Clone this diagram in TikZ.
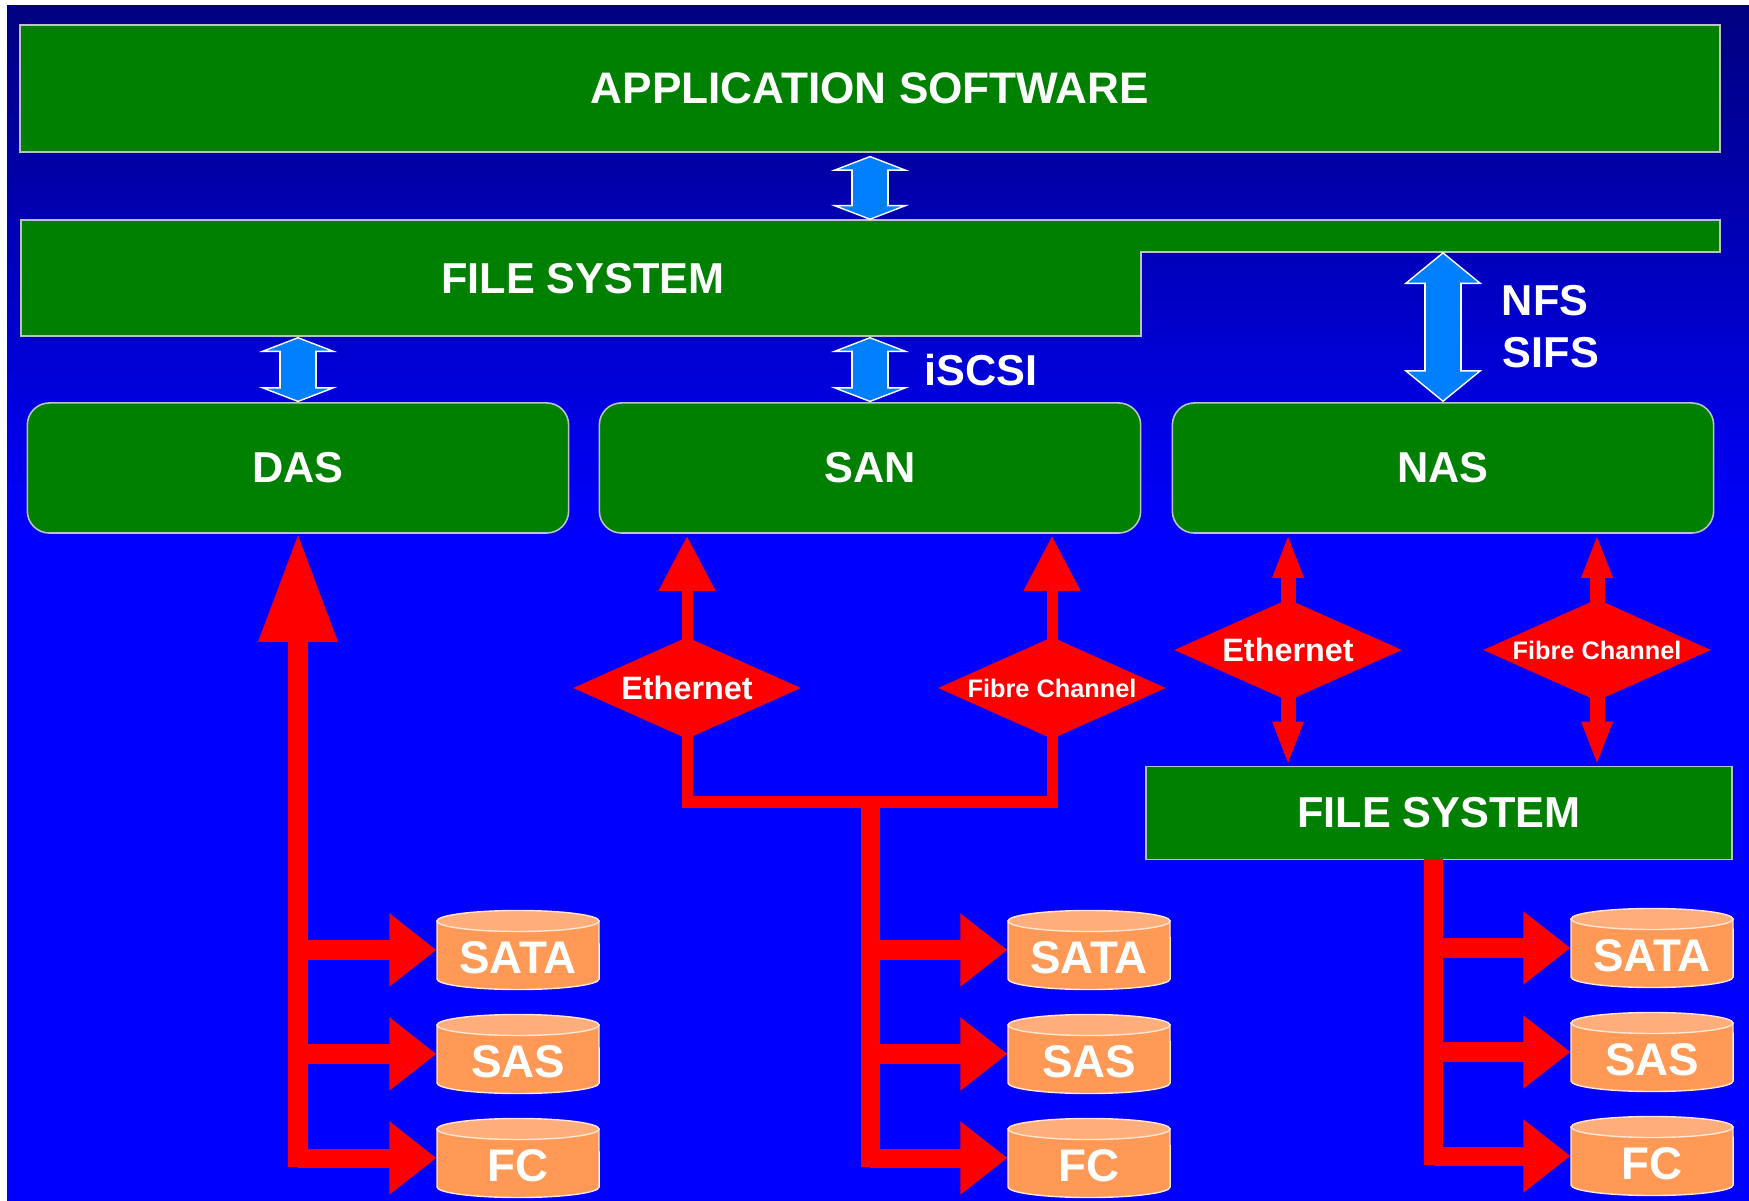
\documentclass[tikz,border=0pt]{standalone}
\usepackage{fontspec}
\setmainfont{Liberation Sans}
\usetikzlibrary{arrows.meta,shapes.geometric}
\definecolor{boxgreen}{RGB}{0,128,0}
\definecolor{boxline}{RGB}{185,195,195}
\definecolor{linkblue}{RGB}{0,128,255}
\definecolor{drivebody}{RGB}{255,153,85}
\definecolor{drivetop}{RGB}{255,173,122}
\tikzset{
  label text/.style={text=white,font=\fontsize{12.3}{14}\bfseries},
  flatbox/.style={draw=boxline,line width=0.45pt,fill=boxgreen},
  layerbox/.style={flatbox,label text,inner sep=0pt},
  roundbox/.style={layerbox,rounded corners=0.22cm,minimum width=5.41cm,minimum height=1.30cm},
  drive/.style={text=white,font=\fontsize{13}{15}\bfseries,inner sep=0pt,outer sep=0pt,minimum width=1.63cm,text height=0.63cm,text depth=0.16cm},
  driveline/.style={draw=white!75!drivebody,line width=0.4pt},
  proto/.style={diamond,fill=red,text=white,inner sep=-2pt,minimum width=2.28cm,minimum height=1.02cm,aspect=2.33},
  biglink/.style={draw=white,line width=0.375cm,
    {Triangle[length=#1,width=0.78cm,color=white,fill=linkblue,line width=0.4pt]}-{Triangle[length=#1,width=0.78cm,color=white,fill=linkblue,line width=0.4pt]},
    postaction={draw=linkblue,line width=0.345cm,-,shorten >=#1-0.04cm,shorten <=#1-0.04cm}},
  bus/.style={draw=red,line width=0.19cm},
  feed/.style={draw=red,line width=0.11cm,shorten <=-0.1cm,shorten >=-0.1cm},
  drive tip/.style={-{Triangle[length=0.47cm,width=0.70cm,color=red]}},
  feed tip/.style={-{Triangle[length=0.55cm,width=0.54cm,color=red]},shorten >=0.02cm},
  nas tip/.style={-{Triangle[length=0.44cm,width=0.28cm,color=red]},draw=red,line width=0.15cm,shorten <=-0.1cm}
}
\newcommand{\drivenode}[4]{
\draw[driveline,fill=drivebody] (#2-81,#3-29) -- (#2-81,#3+29) arc[start angle=180,end angle=360,x radius=0.81cm,y radius=0.105cm] -- (#2+81,#3-29) -- cycle;
\draw[driveline,fill=drivetop] (#2,#3-29) ellipse[x radius=0.81cm,y radius=0.105cm];
\node[drive] (#1) at (#2,#3) {#4};
}
\begin{document}
\begin{tikzpicture}[x=0.01cm,y=-0.01cm]
\useasboundingbox (0,0) rectangle (1749,1201);
\shade[top color=blue!50!black,bottom color=blue] (7,6) rectangle (1749,540);
\fill[blue] (7,540) rectangle (1749,1201);

\node[layerbox,font=\fontsize{12.55}{14}\bfseries,minimum width=16.99cm,minimum height=1.27cm] (app) at (870,88.5) {APPLICATION SOFTWARE};
\coordinate (fsnw) at (21,220);
\coordinate (fsne) at (1720,220);
\coordinate (fsse) at (1720,252);
\coordinate (fsstep) at (1141,252);
\coordinate (fscorner) at (1141,336);
\coordinate (fssw) at (21,336);
\draw[flatbox] (fsnw) -- (fsne) -- (fsse) -- (fsstep) -- (fscorner) -- (fssw) -- cycle;
\node[label text] (fshost) at (583,279) {FILE SYSTEM};

\node[roundbox] (das) at (298,468) {DAS};
\node[roundbox] (san) at (870,468) {SAN};
\node[roundbox] (nas) at (1443,468) {NAS};

\coordinate (fsapp) at (870,220);
\coordinate (fsdas) at (298,337);
\coordinate (fssan) at (870,337);
\coordinate (fsnas) at (1443,252);
\draw[biglink=0.15cm,shorten <=0.03cm] (app.south) -- (fsapp);
\draw[biglink=0.15cm] (fsdas) -- (das.north);
\draw[biglink=0.15cm] (fssan) -- (san.north);
\draw[biglink=0.32cm] (fsnas) -- (nas.north);
\node[label text] (iscsi) at (981,370) {iSCSI};
\node[label text] (nfs) at (1545,301) {NFS};
\node[label text] (sifs) at (1551,353) {SIFS};

\node[proto,font=\fontsize{9.2}{11}\bfseries] (sanether) at (687,688) {Ethernet};
\node[proto,font=\fontsize{7.2}{9}\bfseries] (sanfibre) at (1052,688) {Fibre Channel};
\node[proto,font=\fontsize{9.2}{11}\bfseries] (nasether) at (1288,650) {Ethernet};
\node[proto,font=\fontsize{7.2}{9}\bfseries] (nasfibre) at (1597,650) {Fibre Channel};
\node[layerbox,minimum width=5.86cm,minimum height=0.93cm] (fslocal) at (1439,813) {FILE SYSTEM};

\drivenode{dassata}{518}{950}{SATA}
\drivenode{dassas}{518}{1054}{SAS}
\drivenode{dasfc}{518}{1158}{FC}
\drivenode{sansata}{1089}{950}{SATA}
\drivenode{sansas}{1089}{1054}{SAS}
\drivenode{sanfc}{1089}{1158}{FC}
\drivenode{nassata}{1652}{948}{SATA}
\drivenode{nassas}{1652}{1052}{SAS}
\drivenode{nasfc}{1652}{1156}{FC}

\coordinate (dasroot) at (298,1167);
\coordinate (sanroot) at (870,1167);
\coordinate (sanjoin) at (870,796);
\coordinate (nasroot) at (1433.5,1165);
\coordinate (nastop) at (1433.5,859);
\draw[bus,-{Triangle[length=1.09cm,width=0.74cm,color=red]},shorten >=-0.01cm] (dasroot) -- (das.south);
\draw[bus] (sanjoin) -- (sanroot);
\draw[bus] (nastop) -- (nasroot);
\draw[bus,drive tip] (dasroot |- dassata.west) -- (dassata.west);
\draw[bus,drive tip] (dasroot |- dassas.west) -- (dassas.west);
\draw[bus,drive tip] (dasroot |- dasfc.west) -- (dasfc.west);
\draw[bus,drive tip] (sanroot |- sansata.west) -- (sansata.west);
\draw[bus,drive tip] (sanroot |- sansas.west) -- (sansas.west);
\draw[bus,drive tip] (sanroot |- sanfc.west) -- (sanfc.west);
\draw[bus,drive tip] (nasroot |- nassata.west) -- (nassata.west);
\draw[bus,drive tip] (nasroot |- nassas.west) -- (nassas.west);
\draw[bus,drive tip] (nasroot |- nasfc.west) -- (nasfc.west);

\draw[feed,feed tip] (sanether.north) -- (sanether.north |- san.south);
\draw[feed,feed tip] (sanfibre.north) -- (sanfibre.north |- san.south);
\coordinate (sanbar) at (870,802);
\draw[feed] (sanether.south) |- (sanbar) -| (sanfibre.south);
\draw[nas tip] (nasether.north) -- (nasether.north |- nas.south);
\draw[nas tip] (nasfibre.north) -- (nasfibre.north |- nas.south);
\draw[nas tip] (nasether.south) -- (nasether.south |- fslocal.north);
\draw[nas tip] (nasfibre.south) -- (nasfibre.south |- fslocal.north);
\end{tikzpicture}
\end{document}
